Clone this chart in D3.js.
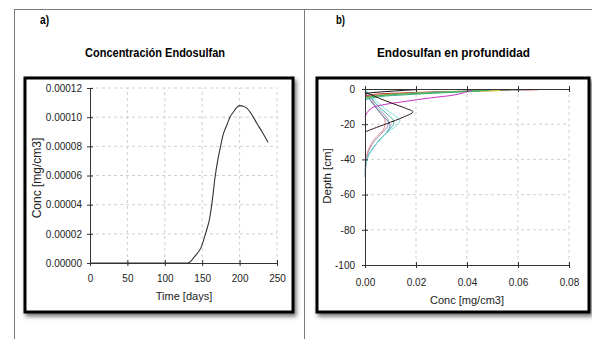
<!DOCTYPE html>
<html>
<head>
<meta charset="utf-8">
<script src="https://cdn.jsdelivr.net/npm/d3@7"></script>
<style>
  body { margin: 0; background: #fff; }
  svg { display: block; font-family: "Liberation Sans", Arial, sans-serif; }
</style>
</head>
<body>
<svg id="chart" width="592" height="339"></svg>
<script>
// panel a: concentration over time
var timeDays = [0, 60, 120, 131, 140, 149, 155, 160, 164, 167, 171, 174, 178, 183, 187, 192, 196, 200, 205, 210, 216, 223, 230, 238];
var concTime = [0, 0, 0, 0, 0.0000045, 0.0000112, 0.000021, 0.0000307, 0.000045, 0.0000581, 0.000071, 0.0000786, 0.000088, 0.0000946, 0.0001, 0.0001037, 0.0001065, 0.0001079, 0.0001075, 0.000106, 0.000102, 0.0000958, 0.000090, 0.0000828];
var timeTicks = [0, 50, 100, 150, 200, 250];
var concTicksA = [0, 0.00002, 0.00004, 0.00006, 0.00008, 0.0001, 0.00012];

// panel b: depth profiles, [conc, depth]
var surfBlack  = [[0.021, -0.3], [0.015, -0.8], [0.008, -1.5], [0.002, -2.2], [0, -2.8]];
var bulge      = [[0, -1.7], [0.006, -5.5], [0.011, -8.3], [0.016, -11], [0.0188, -13], [0.015, -16], [0.0085, -19.7], [0.0033, -22.5], [0, -24.4]];
var magenta    = [[0.042, -0.6], [0.039, -2], [0.035, -3.4], [0.026, -5], [0.015, -7.2], [0.006, -9.3], [0.0026, -10.8], [0.0008, -13.5], [0, -16]];
var green      = [[0.049, -0.8], [0.035, -1.6], [0.02, -2.5], [0.008, -3.5], [0.002, -4.5], [0, -5.5]];
var teal       = [[0.045, -1.2], [0.03, -2.2], [0.016, -3.3], [0.006, -4.3], [0, -6]];
var olive      = [[0.057, -0.6], [0.04, -1.2], [0.022, -2.1], [0.008, -3.2], [0, -4.5]];
var yellow     = [[0.053, -0.9], [0.038, -1.5], [0.02, -2.5], [0.007, -3.6], [0, -5]];
var cyanSurf   = [[0.063, -0.5], [0.045, -1], [0.025, -2], [0.01, -3.2], [0.003, -4.5], [0, -6.5]];
var red        = [[0.068, -0.4], [0.055, -0.8], [0.035, -1.4], [0.015, -2.2], [0.004, -3], [0, -4]];
var deepCyan   = [[0, -0.5], [0.003, -4.5], [0.006, -9], [0.0095, -13], [0.0125, -16], [0.0137, -18], [0.012, -21], [0.0085, -25], [0.005, -30], [0.0026, -34.7], [0.0012, -38.5], [0.0004, -42], [0, -48]];
var deepTeal   = [[0, -1], [0.0025, -5], [0.005, -9.5], [0.0085, -14], [0.011, -17.5], [0.0112, -20], [0.0095, -23], [0.007, -27], [0.0045, -31], [0.0024, -35], [0.001, -39], [0, -46]];
var deepBlue   = [[0, -2], [0.002, -6], [0.0045, -11], [0.0075, -16], [0.0098, -20.5], [0.0088, -24], [0.0062, -28], [0.004, -32], [0.002, -36], [0.0006, -41], [0, -50]];
var deepPink   = [[0, -1.5], [0.0026, -5.3], [0.004, -10], [0.006, -13.8], [0.0078, -17.6], [0.0072, -23.3], [0.0045, -27], [0.0025, -31], [0.0012, -35], [0, -42]];
var deepGray   = [[0, -3], [0.003, -8], [0.0065, -13], [0.0092, -18], [0.0085, -22], [0.006, -26], [0.0035, -30], [0.0015, -35], [0, -44]];
var concTicksB = [0, 0.02, 0.04, 0.06, 0.08];
var depthTicks = [0, -20, -40, -60, -80, -100];

var profiles = [deepGray, deepPink, deepBlue, deepTeal, deepCyan, red, cyanSurf, olive, yellow, teal, green, magenta, bulge, surfBlack];
var profileColors = ["#9a8fb0", "#e8909c", "#5f86b8", "#3fb3a8", "#7fe0e0", "#d03030", "#8fe8e8", "#8a7040", "#e0e040", "#30b090", "#40b060", "#cc30cc", "#2a1414", "#111"];

var svg = d3.select("#chart");
svg.append("rect").attr("width", 592).attr("height", 339).attr("fill", "#fff");

var defs = svg.append("defs");
defs.append("filter").attr("id", "shadow")
    .attr("x", "-10%").attr("y", "-10%").attr("width", "120%").attr("height", "120%")
  .append("feDropShadow")
    .attr("dx", 2).attr("dy", 3).attr("stdDeviation", 2)
    .attr("flood-color", "#000").attr("flood-opacity", 0.55);

// page frame (table lines)
var frame = svg.append("g").attr("stroke", "#7a7a7a").attr("stroke-width", 1);
frame.append("line").attr("x1", 14).attr("x2", 592).attr("y1", 9.5).attr("y2", 9.5);
frame.append("line").attr("x1", 14.5).attr("x2", 14.5).attr("y1", 9).attr("y2", 339);
frame.append("line").attr("x1", 304.5).attr("x2", 304.5).attr("y1", 9).attr("y2", 339);

svg.append("text").attr("x", 40).attr("y", 24).attr("font-size", 13).attr("font-weight", "bold")
    .attr("textLength", 9).attr("lengthAdjust", "spacingAndGlyphs").text("a)");
svg.append("text").attr("x", 336).attr("y", 24).attr("font-size", 13).attr("font-weight", "bold")
    .attr("textLength", 9).attr("lengthAdjust", "spacingAndGlyphs").text("b)");

svg.append("text").attr("x", 85).attr("y", 56.5)
    .attr("font-size", 13).attr("font-weight", "bold")
    .attr("textLength", 140).attr("lengthAdjust", "spacingAndGlyphs").text("Concentración Endosulfan");
svg.append("text").attr("x", 377).attr("y", 56.5)
    .attr("font-size", 13).attr("font-weight", "bold")
    .attr("textLength", 153).attr("lengthAdjust", "spacingAndGlyphs").text("Endosulfan en profundidad");

// boxes
svg.append("rect").attr("x", 25).attr("y", 78).attr("width", 268).attr("height", 234)
    .attr("fill", "#fff").attr("stroke", "#000").attr("stroke-width", 3).attr("filter", "url(#shadow)");
svg.append("rect").attr("x", 317).attr("y", 78).attr("width", 272).attr("height", 234)
    .attr("fill", "#fff").attr("stroke", "#000").attr("stroke-width", 3).attr("filter", "url(#shadow)");

function grid(g, xs, ys, sx, sy) {
    var gg = g.append("g").attr("stroke", "#cfcfcf").attr("stroke-dasharray", "3,3").attr("stroke-width", 1);
    gg.selectAll(".gx").data(xs).enter().append("line")
        .attr("x1", d => sx(d)).attr("x2", d => sx(d))
        .attr("y1", sy.range()[0]).attr("y2", sy.range()[1]);
    gg.selectAll(".gy").data(ys).enter().append("line")
        .attr("y1", d => sy(d)).attr("y2", d => sy(d))
        .attr("x1", sx.range()[0]).attr("x2", sx.range()[1]);
}

function styleAxis(g, vertical) {
    g.select(".domain").attr("stroke", "#333");
    g.selectAll(".tick line").attr("stroke", "#333");
    if (vertical) g.selectAll(".tick line").attr("x1", 3);
    else g.selectAll(".tick line").attr("y1", -3);
    g.selectAll(".tick text").attr("fill", "#222").attr("font-size", 10);
}

// ---- panel a ----
var xA = d3.scaleLinear().domain([0, 250]).range([90, 277]);
var yA = d3.scaleLinear().domain([0, 0.00012]).range([263, 88]);
var gA = svg.append("g");
grid(gA, timeTicks.slice(1), concTicksA.slice(1), xA, yA);

gA.append("path")
    .attr("fill", "none").attr("stroke", "#333").attr("stroke-width", 1.1)
    .attr("d", d3.line().x((d, i) => xA(timeDays[i])).y(d => yA(d)).curve(d3.curveMonotoneX)(concTime));

var axA = gA.append("g").attr("transform", "translate(90,0)")
    .call(d3.axisLeft(yA).tickValues(concTicksA).tickFormat(d3.format(".5f")).tickSizeOuter(0).tickSize(3).tickPadding(5));
styleAxis(axA, true);
var axAx = gA.append("g").attr("transform", "translate(0,263)")
    .call(d3.axisBottom(xA).tickValues(timeTicks).tickSizeOuter(0).tickSize(3).tickPadding(8.5));
styleAxis(axAx, false);

gA.append("text").attr("x", 184).attr("y", 300).attr("text-anchor", "middle")
    .attr("font-size", 11).attr("fill", "#222").text("Time [days]");
gA.append("text").attr("transform", "translate(41,178) rotate(-90)").attr("text-anchor", "middle")
    .attr("font-size", 12).attr("fill", "#222").text("Conc [mg/cm3]");

// ---- panel b ----
var xB = d3.scaleLinear().domain([0, 0.08]).range([365, 569]);
var yB = d3.scaleLinear().domain([-100, 0]).range([265, 89]);
var gB = svg.append("g");
grid(gB, concTicksB.slice(1), depthTicks.slice(1, 5), xB, yB);

var lineB = d3.line().x(d => xB(d[0])).y(d => yB(d[1])).curve(d3.curveCatmullRom);
gB.selectAll(".prof").data(profiles).enter().append("path")
    .attr("fill", "none").attr("stroke-width", 1)
    .attr("stroke", (d, i) => profileColors[i])
    .attr("d", d => lineB(d));

var axB = gB.append("g").attr("transform", "translate(365,0)")
    .call(d3.axisLeft(yB).tickValues(depthTicks).tickFormat(d => String(d)).tickSizeOuter(0).tickSize(3).tickPadding(7));
styleAxis(axB, true);
var axBx = gB.append("g").attr("transform", "translate(0,265)")
    .call(d3.axisBottom(xB).tickValues(concTicksB).tickFormat(d3.format(".2f")).tickSizeOuter(0).tickSize(3).tickPadding(10.5));
styleAxis(axBx, false);
var axBtop = gB.append("g").attr("transform", "translate(0,89)")
    .call(d3.axisBottom(xB).tickValues(concTicksB).tickFormat("").tickSizeOuter(0).tickSize(3));
styleAxis(axBtop, false);

gB.append("text").attr("x", 467).attr("y", 304).attr("text-anchor", "middle")
    .attr("font-size", 11).attr("fill", "#222").text("Conc [mg/cm3]");
gB.append("text").attr("transform", "translate(331,176) rotate(-90)").attr("text-anchor", "middle")
    .attr("font-size", 11.5).attr("fill", "#222").text("Depth [cm]");
</script>
</body>
</html>
